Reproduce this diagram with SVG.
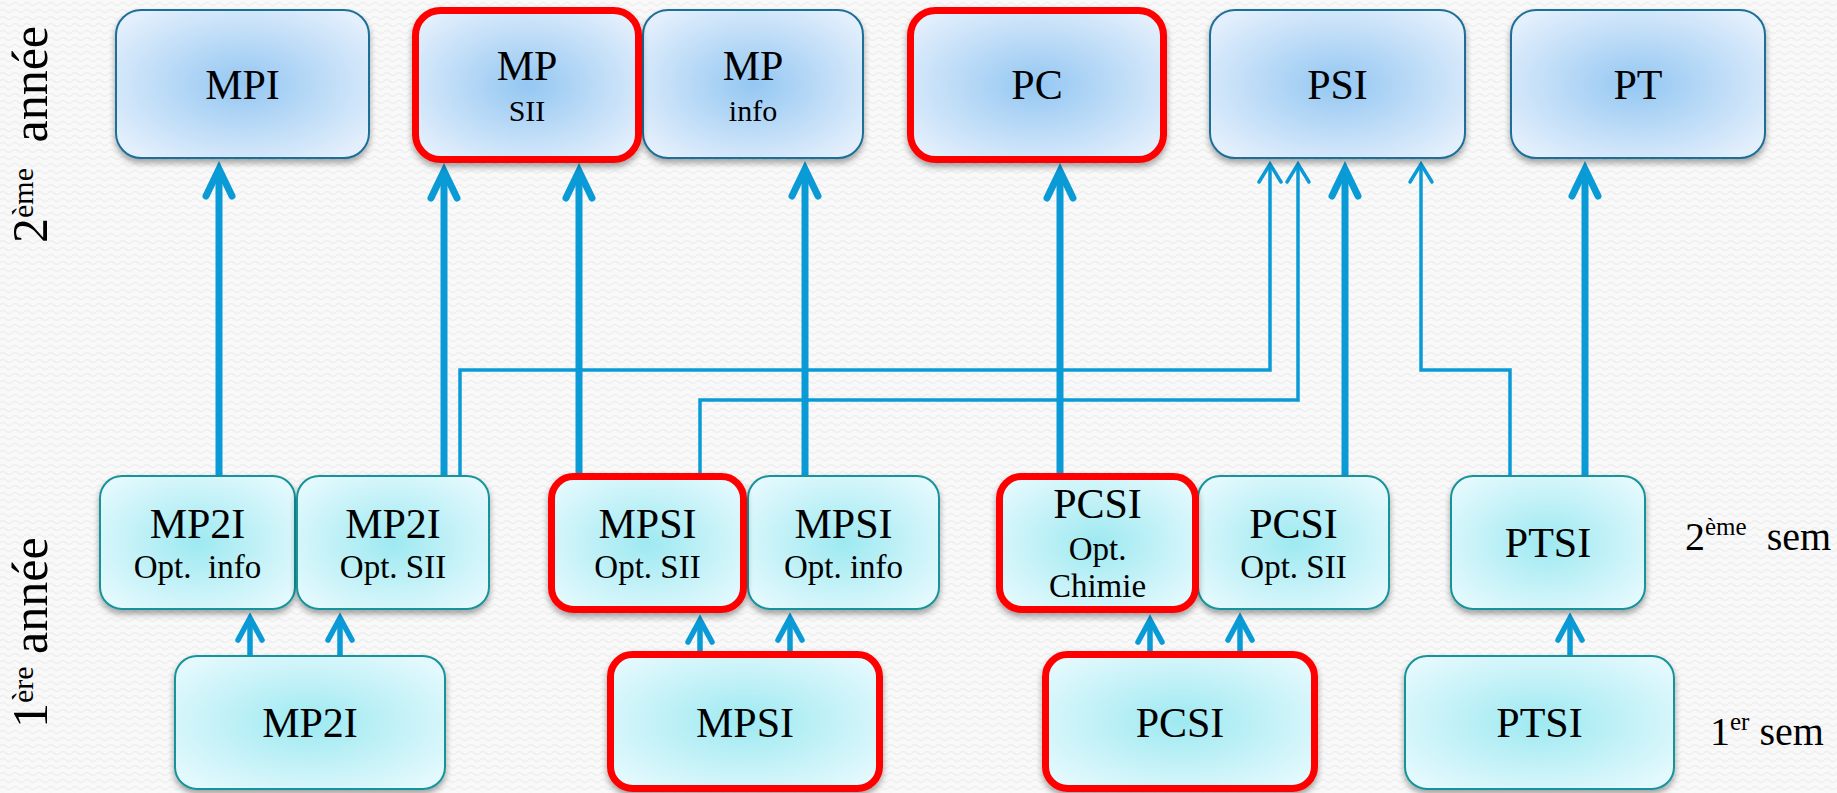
<svg xmlns="http://www.w3.org/2000/svg" width="1837" height="793" viewBox="0 0 1837 793">
<style>
  text { font-family: "Liberation Serif", "Times New Roman", serif; fill: #000; text-anchor: middle; }
  .main { font-size: 42px; }
  .subTop { font-size: 30px; }
  .sub { font-size: 33px; }
  .side { font-size: 50px; text-anchor: start; }
  .sem { font-size: 40px; text-anchor: start; }
  .boxB { fill: url(#gBlue); stroke: #1f6f98; stroke-width: 2; filter: url(#shadow); }
  .boxC { fill: url(#gCyan); stroke: #18949a; stroke-width: 2; filter: url(#shadow); }
  .red { stroke: #ff0000; stroke-width: 7; }
  .conn { fill: none; stroke: #0a9ad6; stroke-linejoin: miter; }
  .thick { stroke-width: 7; marker-end: url(#arrThick); }
  .thin { stroke-width: 3.5; marker-end: url(#arrThin); }
  .med { stroke-width: 5.5; marker-end: url(#arrMed); }
</style>
<defs>
  <pattern id="bgWave" width="12" height="7" patternUnits="userSpaceOnUse">
    <rect width="12" height="7" fill="#f9f9f9"/>
    <path d="M0 4 Q3 1 6 4 T12 4" fill="none" stroke="#eeeeee" stroke-width="1.2"/>
  </pattern>
  <radialGradient id="gBlue" cx="50%" cy="50%" r="62%">
    <stop offset="0" stop-color="#94c7f2"/>
    <stop offset="1" stop-color="#e3effc"/>
  </radialGradient>
  <radialGradient id="gCyan" cx="50%" cy="50%" r="62%">
    <stop offset="0" stop-color="#9ee9f1"/>
    <stop offset="1" stop-color="#e3f9fd"/>
  </radialGradient>
  <filter id="shadow" x="-10%" y="-10%" width="120%" height="130%">
    <feDropShadow dx="0" dy="4" stdDeviation="3" flood-color="#000" flood-opacity="0.35"/>
  </filter>
  <marker id="arrThick" markerUnits="userSpaceOnUse" orient="auto" refX="0" refY="0" markerWidth="60" markerHeight="60" viewBox="-40 -30 60 60" overflow="visible">
    <path d="M-27 -13 L0 0 L-27 13" fill="none" stroke="#0a9ad6" stroke-width="7" stroke-linecap="round" stroke-miterlimit="10"/>
  </marker>
  <marker id="arrThin" markerUnits="userSpaceOnUse" orient="auto" refX="0" refY="0" markerWidth="40" markerHeight="40" viewBox="-30 -20 40 40" overflow="visible">
    <path d="M-18 -11 L0 0 L-18 11" fill="none" stroke="#0a9ad6" stroke-width="3.5" stroke-linecap="round" stroke-miterlimit="10"/>
  </marker>
  <marker id="arrMed" markerUnits="userSpaceOnUse" orient="auto" refX="0" refY="0" markerWidth="50" markerHeight="50" viewBox="-35 -25 50 50" overflow="visible">
    <path d="M-22 -12 L0 0 L-22 12" fill="none" stroke="#0a9ad6" stroke-width="5.5" stroke-linecap="round" stroke-miterlimit="10"/>
  </marker>
</defs>

<rect width="1837" height="793" fill="url(#bgWave)"/>

<!-- side labels -->
<g id="label-2eme-annee">
  <text class="side" transform="translate(47,243) rotate(-90)">2<tspan font-size="30" dy="-14">ème</tspan><tspan dy="14" dx="13"> année</tspan></text>
</g>
<g id="label-1ere-annee">
  <text class="side" transform="translate(47,728) rotate(-90)">1<tspan font-size="30" dy="-14">ère</tspan><tspan dy="14"> année</tspan></text>
</g>
<g id="label-2eme-sem">
  <text class="sem" x="1685" y="550">2<tspan font-size="25" dy="-15">ème</tspan><tspan dy="15" dx="10"> sem</tspan></text>
</g>
<g id="label-1er-sem">
  <text class="sem" x="1710" y="745">1<tspan font-size="25" dy="-15">er</tspan><tspan dy="15"> sem</tspan></text>
</g>

<!-- connectors -->
<g id="connectors">
  <path class="conn thick" d="M219 475 V169"/>
  <path class="conn thick" d="M444 475 V171"/>
  <path class="conn thick" d="M579 473 V171"/>
  <path class="conn thick" d="M805 475 V169"/>
  <path class="conn thick" d="M1060 473 V171"/>
  <path class="conn thick" d="M1345 475 V169"/>
  <path class="conn thick" d="M1585 475 V169"/>
  <path class="conn thin" d="M460 475 V370 H1270 V164"/>
  <path class="conn thin" d="M700 473 V400 H1298 V164"/>
  <path class="conn thin" d="M1510 475 V370 H1421 V164"/>
  <path class="conn med" d="M250 655 V618"/>
  <path class="conn med" d="M340 655 V618"/>
  <path class="conn med" d="M700 651 V620"/>
  <path class="conn med" d="M790 651 V618"/>
  <path class="conn med" d="M1150 651 V620"/>
  <path class="conn med" d="M1240 651 V618"/>
  <path class="conn med" d="M1570 655 V618"/>
</g>

<!-- top row: 2ème année -->
<g id="MPI">
  <rect class="boxB" x="116" y="10" width="253" height="148" rx="25"/>
  <text class="main" x="242.5" y="99">MPI</text>
</g>
<g id="MP-info">
  <rect class="boxB" x="643" y="10" width="220" height="148" rx="25"/>
  <text class="main" x="753" y="80">MP</text>
  <text class="subTop" x="753" y="121">info</text>
</g>
<g id="MP-SII">
  <rect class="boxB red" x="415.5" y="10.5" width="223" height="149" rx="25"/>
  <text class="main" x="527" y="80">MP</text>
  <text class="subTop" x="527" y="121">SII</text>
</g>
<g id="PC">
  <rect class="boxB red" x="910.5" y="10.5" width="253" height="149" rx="25"/>
  <text class="main" x="1037" y="99">PC</text>
</g>
<g id="PSI">
  <rect class="boxB" x="1210" y="10" width="255" height="148" rx="25"/>
  <text class="main" x="1337.5" y="99">PSI</text>
</g>
<g id="PT">
  <rect class="boxB" x="1511" y="10" width="254" height="148" rx="25"/>
  <text class="main" x="1638" y="99">PT</text>
</g>

<!-- middle row: 2ème semestre -->
<g id="MP2I-opt-info">
  <rect class="boxC" x="100" y="476" width="195" height="133" rx="22"/>
  <text class="main" x="197.5" y="538">MP2I</text>
  <text class="sub" x="197.5" y="578" xml:space="preserve">Opt.  info</text>
</g>
<g id="MP2I-opt-SII">
  <rect class="boxC" x="297" y="476" width="192" height="133" rx="22"/>
  <text class="main" x="393" y="538">MP2I</text>
  <text class="sub" x="393" y="578">Opt. SII</text>
</g>
<g id="MPSI-opt-info">
  <rect class="boxC" x="748" y="476" width="191" height="133" rx="22"/>
  <text class="main" x="843.5" y="538">MPSI</text>
  <text class="sub" x="843.5" y="578">Opt. info</text>
</g>
<g id="MPSI-opt-SII">
  <rect class="boxC red" x="551.5" y="476.5" width="192" height="133" rx="22"/>
  <text class="main" x="647.5" y="538">MPSI</text>
  <text class="sub" x="647.5" y="578">Opt. SII</text>
</g>
<g id="PCSI-opt-SII">
  <rect class="boxC" x="1198" y="476" width="191" height="133" rx="22"/>
  <text class="main" x="1293.5" y="538">PCSI</text>
  <text class="sub" x="1293.5" y="578">Opt. SII</text>
</g>
<g id="PCSI-opt-chimie">
  <rect class="boxC red" x="999.5" y="476.5" width="196" height="133" rx="22"/>
  <text class="main" x="1097.5" y="518">PCSI</text>
  <text class="sub" x="1097.5" y="560">Opt.</text>
  <text class="sub" x="1097.5" y="597">Chimie</text>
</g>
<g id="PTSI-2">
  <rect class="boxC" x="1451" y="476" width="194" height="133" rx="22"/>
  <text class="main" x="1548" y="557">PTSI</text>
</g>

<!-- bottom row: 1er semestre -->
<g id="MP2I">
  <rect class="boxC" x="175" y="656" width="270" height="133" rx="22"/>
  <text class="main" x="310" y="737">MP2I</text>
</g>
<g id="MPSI">
  <rect class="boxC red" x="610.5" y="654.5" width="269" height="134" rx="22"/>
  <text class="main" x="745" y="737">MPSI</text>
</g>
<g id="PCSI">
  <rect class="boxC red" x="1045.5" y="654.5" width="269" height="134" rx="22"/>
  <text class="main" x="1180" y="737">PCSI</text>
</g>
<g id="PTSI">
  <rect class="boxC" x="1405" y="656" width="269" height="133" rx="22"/>
  <text class="main" x="1539.5" y="737">PTSI</text>
</g>
</svg>
